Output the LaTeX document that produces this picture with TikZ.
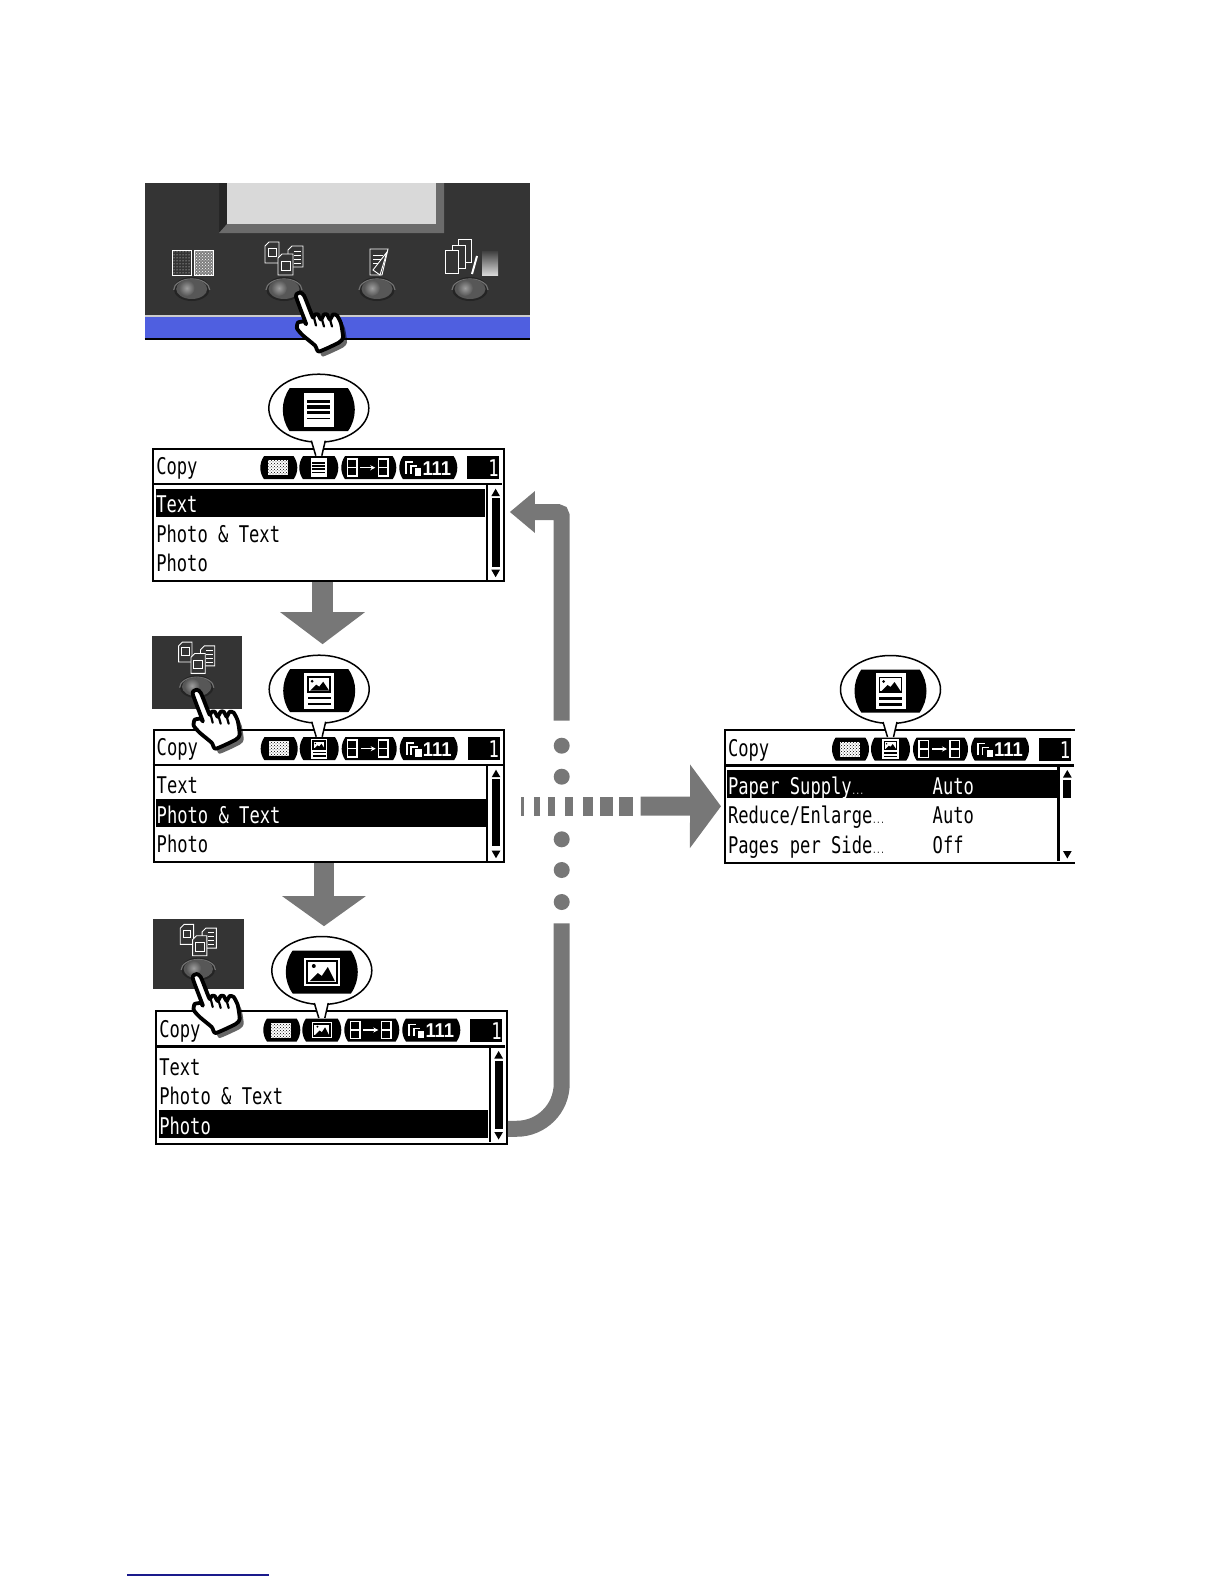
\documentclass[tikz,border=0pt]{standalone}
\usepackage{fontspec}
\usetikzlibrary{arrows.meta,patterns}
\newfontfamily\lcdfont[FakeStretch=0.745]{DejaVu Sans Mono}
\newfontfamily\pillfont[FakeStretch=0.92]{Liberation Sans}
\definecolor{panelgray}{HTML}{343434}
\definecolor{flowgray}{HTML}{777777}
\definecolor{panelblue}{HTML}{4F5FE0}
\definecolor{footblue}{HTML}{1A1A8C}
\tikzset{
  lcdbox/.style={draw, line width=2pt, fill=white, anchor=north west, inner sep=0pt,
    minimum width=350.5pt, minimum height=132.5pt},
  lcdtext/.style={anchor=base west, inner sep=0pt, font=\lcdfont\fontsize{23}{23}\selectfont},
  flowarrow/.style={draw=flowgray, line width=#1},
  iconline/.style={draw=white, line width=0.9pt},
  pics/txticon/.style={code={
    \fill[white] (-15,-17) rectangle (15,17);
    \foreach \ly in {-10,-4.5,1} \fill (-11.5,\ly) rectangle (11.5,\ly+3.4);
    \fill (-11.5,8) rectangle (11.5,9.5);
  }},
  pics/photxticon/.style={code={
    \fill[white] (-15,-18) rectangle (15,18);
    \draw[line width=1.6pt] (-11,-13.5) rectangle (11,1);
    \fill (-9,0) -- (-3,-6) -- (0,-4) -- (4,-9) -- (10,0) -- cycle;
    \fill (-7,-9.5) circle (1.5);
    \fill (-11.5,6) rectangle (11.5,8.5);
    \fill (-11.5,12) rectangle (11.5,14.5);
  }},
  pics/photoicon/.style={code={
    \fill[white] (-18,-14) rectangle (18,14);
    \draw[line width=1.6pt] (-15,-11) rectangle (15,11);
    \fill (-12,9) -- (-4,1) -- (0,4) -- (6,-5) -- (13,9) -- cycle;
    \fill (-8,-6) circle (2);
  }},
  pics/panelbutton/.style={code={
    \fill[panelgray!70!black] (0,0) ellipse (18 and 12);
    \draw[black!55, line width=1.2pt] (-18,1) arc (180:360:18 and 11);
    \fill[black!66] (0,0) ellipse (15.5 and 10);
    \shade[inner color=black!38, outer color=black!66] (-5,-1) circle (8);
  }},
  pics/tripage/.style={code={
    \foreach \pa/\pb/\pc/\pd in {-19/-47/-5/-26, 4/-43/19/-22, -6/-35/9/-14}
      \draw[iconline, fill=panelgray] (\pa,\pb+4) -- (\pa+4,\pb) -- (\pc,\pb) -- (\pc,\pd) -- (\pa,\pd) -- cycle;
    \draw[iconline] (-16,-41) rectangle (-8,-33);
    \draw[iconline] (-3,-28) rectangle (6,-19);
    \foreach \ly in {-38,-34,-30,-26} \draw[iconline] (10,\ly) -- (17,\ly);
  }},
  pics/hand/.style={code={
    \def\handpath{plot[smooth cycle, tension=0.35] coordinates {(-4,3) (0,-1) (4,2) (10,17) (13,24) (15,21)
      (18,21) (21,26) (24,21) (27,21) (30,26) (33,21) (37,22) (41,30) (43,44) (39,49)
      (19,58) (15,52) (3,42) (-3,35) (-2,29) (4,28) (6,30)}}
    \fill[black, opacity=0.6] [shift={(4,5)}] \handpath;
    \draw[fill=white, line width=3.8pt, line join=round] \handpath;
    \draw[line width=2.2pt, line cap=round] (14,24) -- (16,32) (22,26) -- (24,33) (30,26) -- (32,33);
  }},
}
% pill with bulging ends: x1, x2, y1, y2
\newcommand{\lcdpill}[4]{
  \pgfmathsetmacro{\pillb}{0.3*(#4-#3)}
  \pgfmathsetmacro{\pillc}{0.16*(#4-#3)}
  \pgfmathsetmacro{\pillo}{\pillc/3}
  \fill (#1+\pillc,#3) -- (#2-\pillc,#3) .. controls (#2+\pillo,#3+\pillb) and (#2+\pillo,#4-\pillb) .. (#2-\pillc,#4)
    -- (#1+\pillc,#4) .. controls (#1-\pillo,#4-\pillb) and (#1-\pillo,#3+\pillb) .. cycle;
}
% one menu row: name, row, selected row, text
\newcommand{\lcdrow}[4]{
  \pgfmathsetmacro{\rowtop}{41+29.5*(#2-1)}
  \pgfmathsetmacro{\rowbase}{65+29.5*(#2-1)}
  \ifnum#2=#3
    \fill (3.4,\rowtop) rectangle (333,\rowtop+28);
    \node[lcdtext, text=white] (#1) at (3.8,\rowbase) {#4};
  \else
    \node[lcdtext] (#1) at (3.8,\rowbase) {#4};
  \fi
}
% name, x, y, icon, selected row, row 1, row 2, row 3, thumb end
\newcommand{\lcdscreen}[9]{
  \begin{scope}[shift={(#2,#3)}]
    \node[lcdbox] (#1) at (0,0) {};
    \draw[line width=2.5pt] (0,36.5) -- (350,36.5);
    \draw[line width=2.5pt] (334.5,36.5) -- (334.5,132);
    \node[lcdtext] (#1copy) at (3.8,27) {Copy};
    % ----- header -----
    \lcdpill{108}{145}{8.5}{31.5}
    \lcdpill{147}{186}{8.5}{31.5}
    \lcdpill{189}{244}{8.5}{31.5}
    \lcdpill{247}{305}{8.5}{31.5}
    \fill[white] (116,12.5) rectangle (136,27.5);
    \fill[pattern=crosshatch dots, pattern color=black] (116,12.5) rectangle (136,27.5);
    \pic[scale=0.55] at (166.5,20) {#4};
    \draw[white, line width=1.5pt] (195,11.5) rectangle (204.5,28.5) (195,20) -- (204.5,20)
      (226,11.5) rectangle (235.5,28.5) (226,20) -- (235.5,20);
    \draw[white, line width=1.2pt, -{Stealth[length=5pt,width=5pt]}] (208,20) -- (223,20);
    \draw[white, line width=1.7pt] (254,26) -- (254,14.5) -- (261,14.5) (258.5,26) -- (258.5,18.5) -- (265,18.5);
    \fill[white] (262.5,20.5) rectangle (269,28);
    \node[anchor=base west, inner sep=0pt, text=white, font=\pillfont\bfseries\fontsize{20}{20}\selectfont]
      (#1count) at (270,27.5) {111};
    \fill (315,8.5) rectangle (347,31.5);
    \node[lcdtext, anchor=base east, text=white] (#1num) at (346.5,29) {1};
    % ----- menu -----
    \lcdrow{#1a}{1}{#5}{#6}
    \lcdrow{#1b}{2}{#5}{#7}
    \lcdrow{#1c}{3}{#5}{#8}
    \fill (339.4,50.6) rectangle (347.2,#9);
    \fill (343.3,41) -- (347.7,48.5) -- (339,48.5) -- cycle;
    \fill (343.3,129.5) -- (347.7,122) -- (339,122) -- cycle;
    % ----- bubble -----
    \begin{scope}[shift={(166.5,-39.5)}]
      \draw[fill=white, line width=1.5pt] (0,0) ellipse (50 and 34);
      \fill[white] (-7.5,30) -- (6.5,30) -- (3,47) -- (-3,47) -- cycle;
      \draw[line width=1.5pt] (-7.5,32.5) -- (-3,47.5) (6.5,32.5) -- (3,47.5);
      \lcdpill{-36}{36}{-20}{23}
      \pic at (0,1.5) {#4};
    \end{scope}
  \end{scope}
}
\newcommand{\tinydots}{{\fontsize{9}{9}\selectfont...}}
\begin{document}
\begin{tikzpicture}[x=1pt, y=-1pt]
  \useasboundingbox (0,0) rectangle (1224,1584);

  % ----- control panel -----
  \fill[panelgray] (144.5,183) rectangle (530,316);
  \fill[black!85] (219,183) -- (227,183) -- (227,224) -- (219,233) -- cycle;
  \fill[black!58] (219,233) -- (227,224) -- (436,224) -- (436,183) -- (444,183) -- (444,233) -- cycle;
  \fill[black!15] (227,183) rectangle (436,224);
  \fill[black!20] (144.5,315) rectangle (530,317);
  \fill[panelblue] (144.5,317) rectangle (530,338.5);
  \draw[line width=1.2pt] (144.5,339) -- (530,339);
  \pic at (191.7,289) {panelbutton};
  \pic at (284,289) {panelbutton};
  \pic at (377,289) {panelbutton};
  \pic at (470,289) {panelbutton};
  \draw[iconline, fill=panelgray] (172.5,250) rectangle (191.5,275);
  \fill[pattern=dots, pattern color=white] (173,250.5) rectangle (191,274.5);
  \draw[iconline, fill=black!50] (194.5,250) rectangle (213.5,275);
  \fill[pattern=crosshatch dots, pattern color=white] (195,250.5) rectangle (213,274.5);
  \pic at (284,289) {tripage};
  \draw[iconline] (370,249) -- (388,249) -- (382,275) -- (370,275) -- cycle;
  \foreach \ly in {255,259,263} \draw[iconline] (373,\ly) -- (383,\ly);
  \draw[iconline, fill=panelgray] (387,252) -- (373,270) -- (380,275) -- cycle;
  \foreach \pa/\pb in {458/239, 452/245, 445/250}
    \draw[iconline, fill=panelgray] (\pa,\pb) rectangle (\pa+13.5,\pb+23);
  \draw[white, line width=2pt] (477,256) -- (472,274);
  \shade[top color=black!75, bottom color=black!15] (482,251) rectangle (498,275);

  % ----- first screen -----
  \lcdscreen{scrtext}{152.3}{447.7}{txticon}{1}{Text}{Photo \& Text}{Photo}{119}

  % ----- second screen -----
  \fill[panelgray] (151.7,635.7) rectangle (242.3,708.7);
  \pic[scale=0.95] at (196.7,686.7) {panelbutton};
  \pic[scale=0.95] at (196.7,686.7) {tripage};
  \lcdscreen{scrphotxt}{152.7}{728.7}{photxticon}{2}{Text}{Photo \& Text}{Photo}{117}

  % ----- third screen -----
  \fill[panelgray] (153.3,919.3) rectangle (244,989);
  \pic[scale=0.95] at (198.3,969) {panelbutton};
  \pic[scale=0.95] at (198.3,969) {tripage};
  \lcdscreen{scrphoto}{155.3}{1010}{photoicon}{3}{Text}{Photo \& Text}{Photo}{119}

  % ----- menu screen -----
  \lcdscreen{scrmenu}{724}{729}{photxticon}{1}{Paper Supply\tinydots}{Reduce/Enlarge\tinydots}{Pages per Side\tinydots}{69}
  \node[lcdtext, text=white] (valsupply) at (932.5,794) {Auto};
  \node[lcdtext] (valreduce) at (932.5,823.5) {Auto};
  \node[lcdtext] (valpages) at (932.5,853) {Off};
  \fill[white] (1075,720) rectangle (1090,870);

  % ----- hands -----
  \pic at (300,293.5) {hand};
  \pic at (196.7,690.7) {hand};
  \pic at (196.7,975) {hand};

  % ----- flow arrows -----
  \draw[flowarrow=20.5pt, -{Triangle[length=32pt,width=83pt]}, flowgray]
    ([xshift=-6pt]scrtext.south) -- ([xshift=-6pt,yshift=-62pt]scrtext.south);
  \draw[flowarrow=20pt, -{Triangle[length=30pt,width=82pt]}, flowgray]
    ([xshift=-5pt]scrphotxt.south) -- ([xshift=-5pt,yshift=-63pt]scrphotxt.south);

  \coordinate (backstart) at (561.7,720.7);
  \coordinate (backend) at (561.7,923.3);
  \draw[flowarrow=16pt, rounded corners=4pt, -{Triangle[length=25pt,width=40pt]}, flowgray]
    (backstart) |- ([xshift=5pt,yshift=-1pt]scrtext.east |- 0,511);
  \draw[flowarrow=16pt, rounded corners=45pt]
    ([yshift=-51.5pt]scrphoto.east) -| (backend);

  \foreach \dy in {745.7,776.7,839.3,870,902}
    \fill[flowgray] (561.7,\dy) circle (8);

  \foreach \xa/\xb in {521/523.7, 534/539.6, 548/555, 564.8/573, 582.5/593, 600/612.5, 619/633}
    \fill[flowgray] (\xa,796.7) rectangle (\xb,815.7);
  \coordinate (dashstart) at (640.6,806.2);
  \draw[flowarrow=19pt, -{Triangle[length=31pt,width=82pt]}, flowgray]
    (dashstart) -- ([shift={(-3pt,-10pt)}]scrmenu.west);

  % ----- footnote rule -----
  \draw[footblue, line width=1.5pt] (127.3,1575) -- (269,1575);
\end{tikzpicture}
\end{document}
